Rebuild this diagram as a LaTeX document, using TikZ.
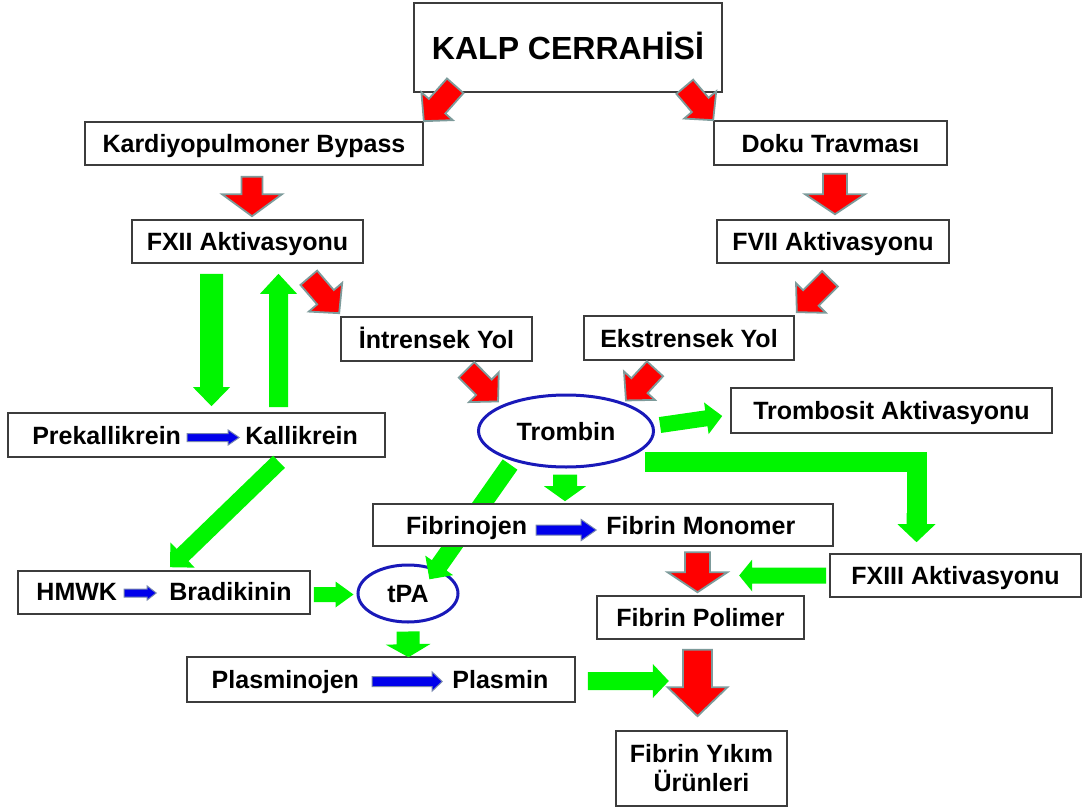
\documentclass[tikz,border=0pt]{standalone}
\usepackage{fontspec}
\setmainfont{Liberation Sans}
\usetikzlibrary{calc, shapes.geometric}

\definecolor{arrowred}{RGB}{255,0,0}
\definecolor{redrim}{RGB}{125,155,155}
\definecolor{arrowgreen}{RGB}{0,245,0}
\definecolor{arrowblue}{RGB}{0,0,235}
\definecolor{bluerim}{RGB}{120,135,175}
\definecolor{ringblue}{RGB}{25,25,185}
\definecolor{boxline}{RGB}{60,60,60}

% fat arrow: style, tail, tip, shaft half width, head half width, head length
\newcommand{\blockarrow}[6]{%
  \path[#1] let \p1=(#2), \p2=(#3),
      \n1={atan2(\y2-\y1,\x2-\x1)}, \n2={veclen(\x2-\x1,\y2-\y1)}
    in [shift={(\p1)}, rotate=\n1]
    (0pt,#4pt) -- ({\n2-#6pt},#4pt) -- ({\n2-#6pt},#5pt) -- (\n2,0pt)
    -- ({\n2-#6pt},-#5pt) -- ({\n2-#6pt},-#4pt) -- (0pt,-#4pt) -- cycle;
}

\begin{document}
\begin{tikzpicture}[
    x=1pt, y=-1pt,
    box/.style={
        draw=boxline,
        line width=1.6pt,
        fill=white,
        inner sep=0pt,
        font=\bfseries\fontsize{25}{29}\selectfont,
        text height=18pt,
        text depth=0pt,
    },
    ring/.style={
        ellipse,
        draw=ringblue,
        line width=3pt,
        inner sep=0pt,
        font=\bfseries\fontsize{25}{29}\selectfont,
        text height=18pt,
        text depth=0pt,
    },
    word/.style={
        inner sep=0pt,
        font=\bfseries\fontsize{25}{29}\selectfont,
    },
    redarrow/.style={
        fill=arrowred,
        draw=redrim,
        line width=1.8pt,
        line join=miter,
    },
    greenarrow/.style={
        fill=arrowgreen,
    },
    greenband/.style={
        draw=arrowgreen,
        line width=20pt,
        line join=miter,
    },
    bluearrow/.style={
        fill=arrowblue,
        draw=bluerim,
        line width=1pt,
    }
]
    \useasboundingbox (0,0) rectangle (1090,811);

    % Top
    \node[box, minimum width=308pt, minimum height=89pt,
          font=\bfseries\fontsize{32}{38}\selectfont, text height=23pt]
          (kalp) at (568,47.5) {KALP CERRAHİSİ};

    % Left and right branches
    \node[box, minimum width=338pt, minimum height=43pt] (kpb) at (254,143.5) {Kardiyopulmoner Bypass};
    \node[box, minimum width=233pt, minimum height=44pt] (doku) at (830.5,143) {Doku Travması};
    \node[box, minimum width=231pt, minimum height=43pt] (fxii) at (247.5,241.5) {FXII Aktivasyonu};
    \node[box, minimum width=232pt, minimum height=43pt] (fvii) at (833,241.5) {FVII Aktivasyonu};
    \node[box, minimum width=191pt, minimum height=44pt] (intr) at (436.5,339) {İntrensek Yol};
    \node[box, minimum width=210pt, minimum height=44pt] (ekst) at (689,338) {Ekstrensek Yol};

    % Middle
    \node[ring, minimum width=175pt, minimum height=72pt] (tromb) at (566,431) {Trombin};
    \node[ring, minimum width=100pt, minimum height=57pt] (tpa) at (408,593.5) {tPA};
    % this one runs behind the fibrin box
    \blockarrow{greenarrow}{$(tromb.south west)+(7,7)$}{$(tpa.north east)+(-15,7)$}{9}{17}{17}
    \node[box, minimum width=321pt, minimum height=45pt] (trombosit) at (891.5,410.5) {Trombosit Aktivasyonu};
    \node[box, minimum width=377pt, minimum height=44pt] (kallbox) at (196.5,435) {};
    \node[word, anchor=base east] (prek) at ($(kallbox.west)+(174,9.5)$) {Prekallikrein};
    \node[word, anchor=base west] (kall) at ($(kallbox.west)+(238,9.5)$) {Kallikrein};
    \node[box, minimum width=460pt, minimum height=42pt] (fibbox) at (603,525) {};
    \node[word, anchor=base east] (fibrinojen) at ($(fibbox.west)+(155,9)$) {Fibrinojen};
    \node[word, anchor=base west] (monomer) at ($(fibbox.west)+(234,9)$) {Fibrin Monomer};
    \node[box, minimum width=251pt, minimum height=43pt] (fxiii) at (955.5,575.5) {FXIII Aktivasyonu};
    \node[box, minimum width=207pt, minimum height=43pt] (polimer) at (700.5,617.5) {Fibrin Polimer};

    % Bottom
    \node[box, minimum width=292pt, minimum height=43pt] (hmwkbox) at (164,592.5) {};
    \node[word, anchor=base east] (hmwk) at ($(hmwkbox.west)+(100,8)$) {HMWK};
    \node[word, anchor=base west] (brad) at ($(hmwkbox.west)+(152,8)$) {Bradikinin};
    \node[box, minimum width=388pt, minimum height=45pt] (plasbox) at (381,679.5) {};
    \node[word, anchor=base east] (plasminojen) at ($(plasbox.west)+(173,9)$) {Plasminojen};
    \node[word, anchor=base west] (plasmin) at ($(plasbox.west)+(266,9)$) {Plasmin};
    \node[box, minimum width=171pt, minimum height=75pt, text height=, text depth=, align=center]
          (yikim) at (701.5,768.5) {Fibrin Yıkım\\Ürünleri};

    % Red arrows
    \blockarrow{redarrow}{$(kalp.south west)+(42,-7)$}{kpb.north east}{11}{21}{20}
    \blockarrow{redarrow}{$(kalp.south east)+(-38,-6)$}{doku.north west}{11}{21}{20}
    \blockarrow{redarrow}{$(kpb.south)+(-2,11)$}{$(fxii.north)+(4.5,-3)$}{10.5}{30}{22}
    \blockarrow{redarrow}{$(doku.south)+(4.5,8)$}{$(fvii.north)+(2,-5)$}{12}{30}{20}
    \blockarrow{redarrow}{$(fxii.south east)+(-55,14)$}{$(intr.north west)+(-1,-3)$}{11}{22}{21}
    \blockarrow{redarrow}{$(fvii.south)+(-3,15)$}{$(ekst.north east)+(2,-3)$}{11}{21}{20}
    \blockarrow{redarrow}{$(intr.south)+(30,8)$}{$(tromb.north west)+(-5,-3)$}{11}{21}{20}
    \blockarrow{redarrow}{$(ekst.south)+(-34,8)$}{$(tromb.north east)+(-3,-4)$}{11}{21}{20}
    \blockarrow{redarrow}{$(polimer.north)+(-3,-43)$}{$(polimer.north)+(-3,-3)$}{12.5}{30}{20}
    \blockarrow{redarrow}{$(polimer.south)+(-3,10)$}{$(yikim.north)+(-4,-14)$}{14.5}{30}{29}

    % Green arrows
    \blockarrow{greenarrow}{$(fxii.south)+(-36,10)$}{$(kallbox.north)+(15,-6)$}{11.5}{18.5}{19}
    \blockarrow{greenarrow}{$(kallbox.north)+(82,-5)$}{$(fxii.south)+(31,10)$}{9.5}{18.5}{20}
    \blockarrow{greenarrow}{$(kallbox.south)+(82.5,4)$}{$(hmwkbox.north)+(6,-3)$}{8.5}{17.5}{17.5}
    \blockarrow{greenarrow}{$(tromb.south)+(-1,6)$}{$(fibbox.north)+(-38,-2)$}{12}{21}{15}
    \blockarrow{greenarrow}{$(tromb.east)+(5,-6)$}{$(trombosit.west)+(-8,5.5)$}{8}{16}{16}
    \draw[greenband] ($(tromb.east)+(-10,31)$) -| ($(fxiii.north)+(-39,-28)$);
    \blockarrow{greenarrow}{$(fxiii.north)+(-39,-40)$}{$(fxiii.north)+(-39,-11)$}{10}{19}{18}
    \blockarrow{greenarrow}{$(fxiii.west)+(-3,0)$}{$(fxiii.west)+(-90,0)$}{8}{16}{13}
    \blockarrow{greenarrow}{$(plasbox.east)+(12,1.5)$}{$(plasbox.east)+(93,1.5)$}{9}{17}{16}
    \blockarrow{greenarrow}{$(hmwkbox.east)+(3,2)$}{$(tpa.west)+(-3,1)$}{7.5}{13}{18}
    \blockarrow{greenarrow}{$(tpa.south)+(0,8)$}{$(plasbox.north)+(27.5,1)$}{11.5}{22.5}{13}

    % Blue arrows
    \blockarrow{bluearrow}{$(prek.base east)+(6,-7)$}{$(kall.base west)+(-6,-7)$}{4}{7.5}{11}
    \blockarrow{bluearrow}{$(hmwk.base east)+(7,-7.5)$}{$(brad.base west)+(-13,-7.5)$}{4}{7}{9}
    \blockarrow{bluearrow}{$(fibrinojen.base east)+(9,-4)$}{$(monomer.base west)+(-10,-4)$}{5}{10.5}{15}
    \blockarrow{bluearrow}{$(plasminojen.base east)+(13,-7)$}{$(plasmin.base west)+(-10,-7)$}{5}{9.5}{10}
\end{tikzpicture}
\end{document}
